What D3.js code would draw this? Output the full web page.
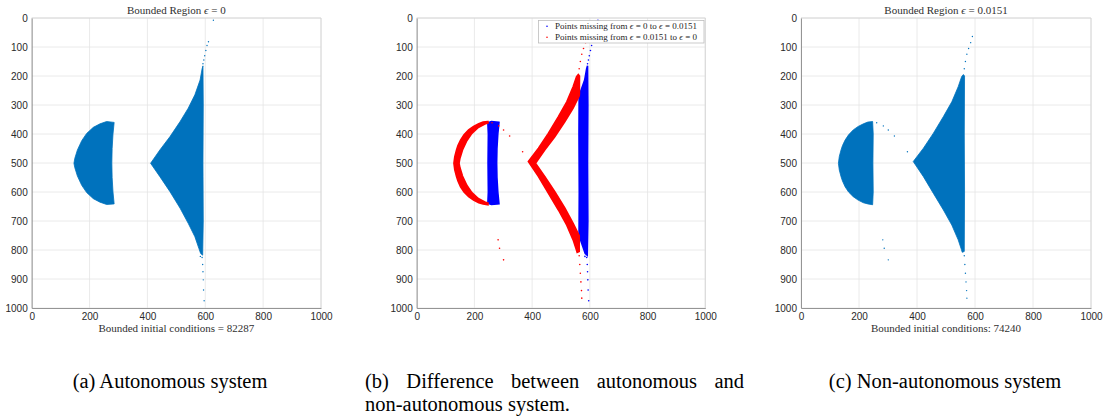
<!DOCTYPE html>
<html>
<head>
<meta charset="utf-8">
<script src="https://cdn.jsdelivr.net/npm/d3@7"></script>
<style>
  body { margin: 0; background: #fff; }
  svg { display: block; }
</style>
</head>
<body>
<svg id="fig" width="1104" height="416"></svg>
<script>
// ---- axis ticks ----
const xTicks = [0, 200, 400, 600, 800, 1000];
const yTicks = [0, 100, 200, 300, 400, 500, 600, 700, 800, 900, 1000];

// ---- bounded region, e = 0 : outlines of the two basins (x, y) ----
const lobeE0 = [
  [285, 360], [259, 357], [236, 365], [213, 377], [190, 398], [173, 423], [158, 455],
  [149, 484], [146, 501], [149, 516], [158, 545], [173, 577], [190, 602], [213, 623],
  [236, 635], [259, 643], [285, 641], [281, 600], [278, 550], [277, 500], [278, 450], [281, 400]
];
const wedgeE0 = [
  [411, 501], [443, 455], [478, 409], [513, 357], [541, 311], [564, 265], [582, 214],
  [589, 175], [592, 165], [593, 300], [592, 500], [593, 700], [591, 818], [584, 812],
  [578, 795], [564, 754], [541, 708], [513, 656], [478, 599], [443, 547]
];
const strayE0 = [
  [628, 8], [611, 82], [606, 95], [602, 112], [598, 130], [595, 145], [592, 158],
  [583, 822], [589, 826], [591, 850], [592, 875], [593, 903], [594, 938], [596, 975]
];

// ---- bounded region, e = 0.0151 ----
const lobeE1 = [
  [247, 357], [230, 359], [215, 365], [197, 374], [180, 386], [164, 403], [152, 421],
  [143, 440], [138, 455], [132, 478], [129, 501], [132, 524], [138, 547], [143, 562],
  [152, 582], [164, 600], [180, 616], [197, 628], [215, 637], [230, 641], [247, 644],
  [249, 600], [248, 500], [249, 400]
];
const wedgeE1 = [
  [387, 495], [422, 449], [456, 398], [491, 340], [520, 289], [542, 237], [554, 202],
  [560, 195], [564, 200], [563, 400], [564, 600], [563, 805], [556, 808], [553, 798],
  [542, 765], [520, 714], [491, 662], [456, 604], [422, 547]
];
const strayE1 = [
  [261, 361], [284, 372], [301, 386], [322, 407], [367, 461],
  [282, 765], [287, 794], [301, 834],
  [591, 64], [585, 85], [578, 105], [572, 125], [567, 150], [563, 175],
  [563, 820], [565, 850], [567, 880], [569, 910], [571, 940], [572, 966]
];

// ---- labels ----
const countE0 = 82287;
const countE1 = 74240;
const legendLabels = [
  ["Points missing from ", "ϵ", " = 0 to ", "ϵ", " = 0.0151"],
  ["Points missing from ", "ϵ", " = 0.0151 to ", "ϵ", " = 0"]
];
const captionA = "(a) Autonomous system";
const captionB1 = "(b) Difference between autonomous and";
const captionB2 = "non-autonomous system.";
const captionC = "(c) Non-autonomous system";

// ---- styling ----
const MBLUE = "#0072BD";
const SERIF = "'Liberation Serif','DejaVu Serif','Times New Roman',serif";
const SANS = "'Liberation Sans',Arial,Helvetica,sans-serif";

const svg = d3.select("#fig");
const defs = svg.append("defs");

const boxes = [
  { key: "a", x0: 31.7, x1: 321.0, y0: 18, y1: 308 },
  { key: "b", x0: 416.7, x1: 705.3, y0: 18, y1: 308 },
  { key: "c", x0: 801.0, x1: 1091.0, y0: 18, y1: 308 }
];

function makeAxes(b) {
  const x = d3.scaleLinear().domain([0, 1000]).range([b.x0, b.x1]);
  const y = d3.scaleLinear().domain([0, 1000]).range([b.y0, b.y1]);
  const g = svg.append("g");

  // grid
  g.append("g").selectAll("line").data(xTicks).join("line")
    .attr("x1", d => x(d)).attr("x2", d => x(d))
    .attr("y1", b.y0).attr("y2", b.y1)
    .attr("stroke", "#e4e4e4").attr("stroke-width", 0.8);
  g.append("g").selectAll("line").data(yTicks).join("line")
    .attr("y1", d => y(d)).attr("y2", d => y(d))
    .attr("x1", b.x0).attr("x2", b.x1)
    .attr("stroke", "#e4e4e4").attr("stroke-width", 0.8);

  // box (top/right light, left/bottom darker)
  g.append("line").attr("x1", b.x0).attr("x2", b.x1).attr("y1", b.y0).attr("y2", b.y0)
    .attr("stroke", "#d2d2d2").attr("stroke-width", 0.8);
  g.append("line").attr("x1", b.x1).attr("x2", b.x1).attr("y1", b.y0).attr("y2", b.y1)
    .attr("stroke", "#d2d2d2").attr("stroke-width", 0.8);

  const ax = svg.append("g").attr("transform", `translate(0,${b.y1})`)
    .call(d3.axisBottom(x).tickValues(xTicks).tickSize(0).tickPadding(5).tickFormat(d3.format("d")));
  const ay = svg.append("g").attr("transform", `translate(${b.x0},0)`)
    .call(d3.axisLeft(y).tickValues(yTicks).tickSize(0).tickPadding(4).tickFormat(d3.format("d")));
  [ax, ay].forEach(a => {
    a.select(".domain").attr("stroke", "#8a8a8a").attr("stroke-width", 0.9);
    a.selectAll("text").attr("font-family", SANS).attr("font-size", "10px").attr("fill", "#2a2a2a");
  });
  return { x, y };
}

function outline(s) {
  return d3.line().x(d => s.x(d[0])).y(d => s.y(d[1])).curve(d3.curveLinearClosed);
}

function title(b, parts, yPos) {
  const t = svg.append("text")
    .attr("x", (b.x0 + b.x1) / 2).attr("y", yPos)
    .attr("text-anchor", "middle")
    .attr("font-family", SERIF).attr("font-size", "11px").attr("fill", "#303030");
  parts.forEach(p => {
    const ts = t.append("tspan").text(p);
    if (p === "ϵ") ts.attr("font-style", "italic");
  });
}

// ---- panel (a): e = 0 ----
{
  const b = boxes[0];
  const s = makeAxes(b);
  const line = outline(s);
  const g = svg.append("g");
  g.selectAll("path").data([lobeE0, wedgeE0]).join("path")
    .attr("d", line).attr("fill", MBLUE).attr("stroke", MBLUE).attr("stroke-width", 0.8);
  g.selectAll("circle").data(strayE0).join("circle")
    .attr("cx", d => s.x(d[0])).attr("cy", d => s.y(d[1])).attr("r", 0.7).attr("fill", MBLUE);
  title(b, ["Bounded Region ", "ϵ", " = 0"], 13.5);
  svg.append("text").attr("x", (b.x0 + b.x1) / 2).attr("y", 331.5)
    .attr("text-anchor", "middle").attr("font-family", SERIF).attr("font-size", "11px")
    .attr("fill", "#303030").text(`Bounded initial conditions = ${countE0}`);
}

// ---- panel (c): e = 0.0151 ----
{
  const b = boxes[2];
  const s = makeAxes(b);
  const line = outline(s);
  const g = svg.append("g");
  g.selectAll("path").data([lobeE1, wedgeE1]).join("path")
    .attr("d", line).attr("fill", MBLUE).attr("stroke", MBLUE).attr("stroke-width", 0.8);
  g.selectAll("circle").data(strayE1).join("circle")
    .attr("cx", d => s.x(d[0])).attr("cy", d => s.y(d[1])).attr("r", 0.7).attr("fill", MBLUE);
  title(b, ["Bounded Region ", "ϵ", " = 0.0151"], 13.5);
  svg.append("text").attr("x", (b.x0 + b.x1) / 2).attr("y", 331.5)
    .attr("text-anchor", "middle").attr("font-family", SERIF).attr("font-size", "11px")
    .attr("fill", "#303030").text(`Bounded initial conditions: ${countE1}`);
}

// ---- panel (b): set differences between the two regions ----
{
  const b = boxes[1];
  const s = makeAxes(b);
  const line = outline(s);

  // mask that hides the interior of a region (slightly shrunk to mimic marker size)
  function holeMask(id, shapes) {
    const m = defs.append("mask").attr("id", id).attr("maskUnits", "userSpaceOnUse")
      .attr("x", 0).attr("y", 0).attr("width", 1104).attr("height", 416);
    m.append("rect").attr("width", 1104).attr("height", 416).attr("fill", "#fff");
    m.selectAll("path").data(shapes).join("path")
      .attr("d", line).attr("fill", "#000").attr("stroke", "#fff").attr("stroke-width", 2);
  }
  holeMask("hideE1", [lobeE1, wedgeE1]);
  holeMask("hideE0", [lobeE0, wedgeE0]);

  // in e = 0 but not in e = 0.0151
  svg.append("g").attr("mask", "url(#hideE1)")
    .selectAll("path").data([lobeE0, wedgeE0]).join("path")
    .attr("d", line).attr("fill", "#0000FF").attr("stroke", "#0000FF").attr("stroke-width", 1.6);
  // in e = 0.0151 but not in e = 0
  svg.append("g").attr("mask", "url(#hideE0)")
    .selectAll("path").data([lobeE1, wedgeE1]).join("path")
    .attr("d", line).attr("fill", "#FF0000").attr("stroke", "#FF0000").attr("stroke-width", 1.6);

  svg.append("g").selectAll("circle").data(strayE0).join("circle")
    .attr("cx", d => s.x(d[0])).attr("cy", d => s.y(d[1])).attr("r", 0.8).attr("fill", "#0000FF");
  svg.append("g").selectAll("circle").data(strayE1).join("circle")
    .attr("cx", d => s.x(d[0])).attr("cy", d => s.y(d[1])).attr("r", 0.8).attr("fill", "#FF0000");

  // legend
  const lg = svg.append("g");
  lg.append("rect").attr("x", 538.5).attr("y", 20.5).attr("width", 165.5).attr("height", 22.5)
    .attr("fill", "#fff").attr("stroke", "#bdbdbd").attr("stroke-width", 0.8);
  const colors = ["#0000FF", "#FF0000"];
  legendLabels.forEach((parts, i) => {
    const cy = 26.2 + i * 11;
    lg.append("circle").attr("cx", 547).attr("cy", cy).attr("r", 0.8).attr("fill", colors[i]);
    const t = lg.append("text").attr("x", 555).attr("y", cy + 3)
      .attr("font-family", SERIF).attr("font-size", "9px").attr("fill", "#262626");
    parts.forEach(p => {
      const ts = t.append("tspan").text(p);
      if (p === "ϵ") ts.attr("font-style", "italic");
    });
  });
}

// ---- sub-figure captions ----
const capFont = 20.5;
function caption(text, x, y, anchor) {
  return svg.append("text").attr("x", x).attr("y", y).attr("text-anchor", anchor)
    .attr("font-family", SERIF).attr("font-size", capFont + "px").attr("fill", "#000").text(text);
}
caption(captionA, 170, 388, "middle");
caption(captionC, 945, 388, "middle");

// justified first line of caption (b)
{
  const left = 365, right = 744, yb = 388;
  const words = captionB1.split(" ");
  const nodes = words.map(w => caption(w, 0, yb, "start"));
  const widths = nodes.map(n => n.node().getComputedTextLength());
  const gap = (right - left - d3.sum(widths)) / (words.length - 1);
  let xp = left;
  nodes.forEach((n, i) => { n.attr("x", xp); xp += widths[i] + gap; });
  caption(captionB2, left, yb + 23, "start");
}
</script>
</body>
</html>
